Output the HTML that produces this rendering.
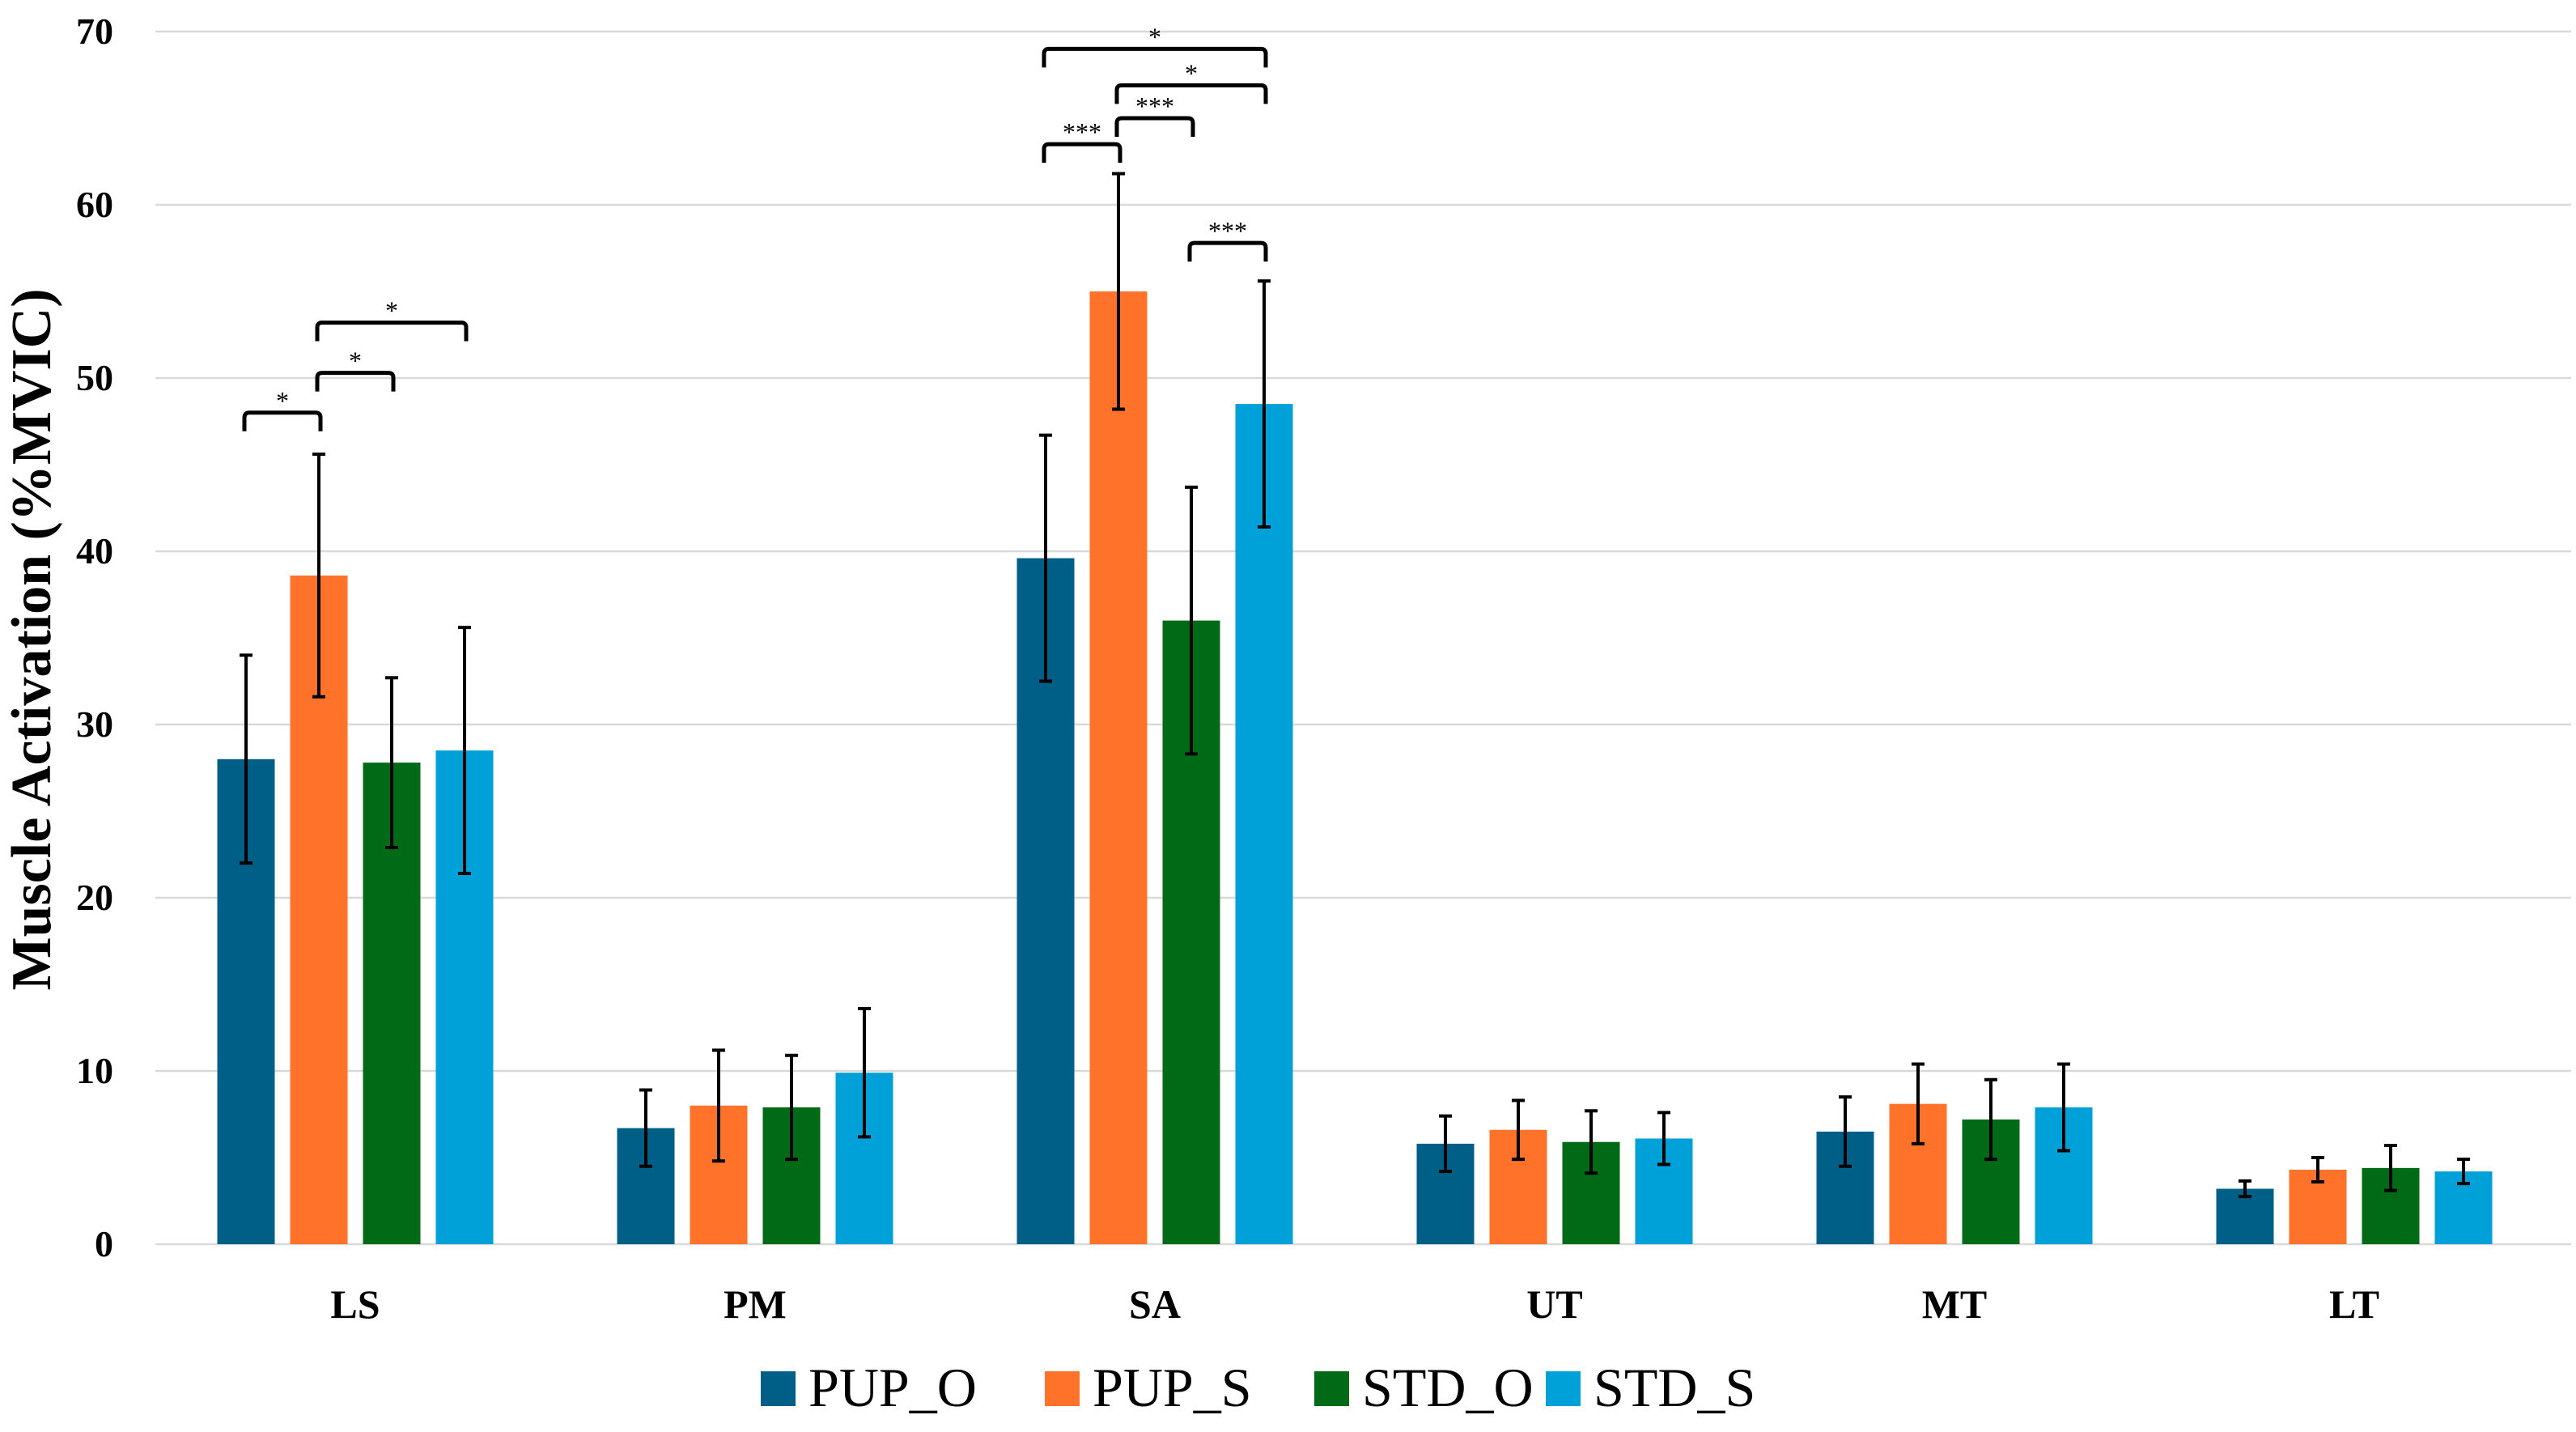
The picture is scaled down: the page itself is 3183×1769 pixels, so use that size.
<!DOCTYPE html>
<html><head><meta charset="utf-8"><style>
body{margin:0;background:#fff;}
svg{display:block;font-family:"Liberation Serif",serif;}
</style></head><body>
<svg id="chart" width="3183" height="1769" viewBox="0 0 3183 1769" xmlns="http://www.w3.org/2000/svg">
<g id="grid"></g>
<g id="yticks"></g>
<text transform="translate(62,790) rotate(-90)" text-anchor="middle" font-size="70" font-weight="bold">Muscle Activation (%MVIC)</text>
<g id="bars"></g>
<g id="errs"></g>
<g id="xlabels"></g>
<g id="sig"></g>
<g id="legend"></g>
</svg>
<script>
const categories=["LS","PM","SA","UT","MT","LT"];
const seriesNames=["PUP_O","PUP_S","STD_O","STD_S"];
const seriesColors=["#005f87","#ff7229","#006a17","#00a1d8"];
const pupO=[28.0,6.7,39.6,5.8,6.5,3.2];
const pupS=[38.6,8.0,55.0,6.6,8.1,4.3];
const stdO=[27.8,7.9,36.0,5.9,7.2,4.4];
const stdS=[28.5,9.9,48.5,6.1,7.9,4.2];
const sdPupO=[6.0,2.2,7.1,1.6,2.0,0.45];
const sdPupS=[7.0,3.2,6.8,1.7,2.3,0.7];
const sdStdO=[4.9,3.0,7.7,1.8,2.3,1.3];
const sdStdS=[7.1,3.7,7.1,1.5,2.5,0.7];
const yTicks=[0,10,20,30,40,50,60,70];
const bracketCat=[0,0,0,2,2,2,2,2];
const bracketFrom=[0,1,1,0,1,1,0,2];
const bracketTo=[1,2,3,1,2,3,3,3];
const bracketTop=[48.0,50.3,53.2,63.5,65.0,66.9,69.0,57.8];
const bracketLabel=["*","*","*","***","***","*","*","***"];

const NS="http://www.w3.org/2000/svg";
const X0=192,CW=494,Y0=1537,YPX=21.4,BW=71,STEP=90;
const y=v=>Y0-v*YPX;
const xc=(c,s)=>X0+CW*c+CW/2+(s-1.5)*STEP;
function mk(tag,attrs,parent){const e=document.createElementNS(NS,tag);for(const k in attrs)e.setAttribute(k,attrs[k]);parent.appendChild(e);return e;}
const G=id=>document.getElementById(id);
const vals=[pupO,pupS,stdO,stdS],sds=[sdPupO,sdPupS,sdStdO,sdStdS];

yTicks.forEach(t=>{
  const l=mk('line',{x1:X0,x2:3177,y1:y(t),y2:y(t),stroke:'#d9d9d9','stroke-width':2.5},G('grid'));
  
  
  const tx=mk('text',{x:140,y:y(t)+15,'text-anchor':'end','font-size':46,'font-weight':'bold'},G('yticks'));
  tx.textContent=t;
  
  
});
categories.forEach((c,ci)=>{
  const tx=mk('text',{x:X0+CW*ci+CW/2,y:1628,'text-anchor':'middle','font-size':50,'font-weight':'bold'},G('xlabels'));
  tx.textContent=c;
  
  
  vals.forEach((arr,si)=>{
    const v=arr[ci],cx=xc(ci,si);
    const r=mk('rect',{x:cx-BW/2,y:y(v),width:BW,height:v*YPX,fill:seriesColors[si]},G('bars'));
    
    
    const sd=sds[si][ci],hi=y(v+sd),lo=y(v-sd);
    const p=mk('path',{d:`M${cx},${hi}V${lo}M${cx-8},${hi}H${cx+8}M${cx-8},${lo}H${cx+8}`,stroke:'#000','stroke-width':4,fill:'none'},G('errs'));
    
    
  });
});
bracketCat.forEach((c,i)=>{
  const x1=xc(c,bracketFrom[i])-2,x2=xc(c,bracketTo[i])+2,t=y(bracketTop[i]),b=t+23;
  const p=mk('path',{d:`M${x1},${b}V${t+6}Q${x1},${t} ${x1+6},${t}H${x2-6}Q${x2},${t} ${x2},${t+6}V${b}`,stroke:'#000','stroke-width':5,fill:'none'},G('sig'));
  
  
  const tx=mk('text',{x:(x1+x2)/2,y:t-4,'text-anchor':'middle','font-size':32},G('sig'));
  tx.textContent=bracketLabel[i];
  
  
});
const legX=[940,1291,1624,1910];
seriesNames.forEach((n,i)=>{
  const r=mk('rect',{x:legX[i],y:1694,width:43,height:43,fill:seriesColors[i]},G('legend'));
  
  
  const tx=mk('text',{x:legX[i]+59,y:1737,'font-size':68},G('legend'));
  tx.textContent=n;
  
  
});
</script>
</body></html>
